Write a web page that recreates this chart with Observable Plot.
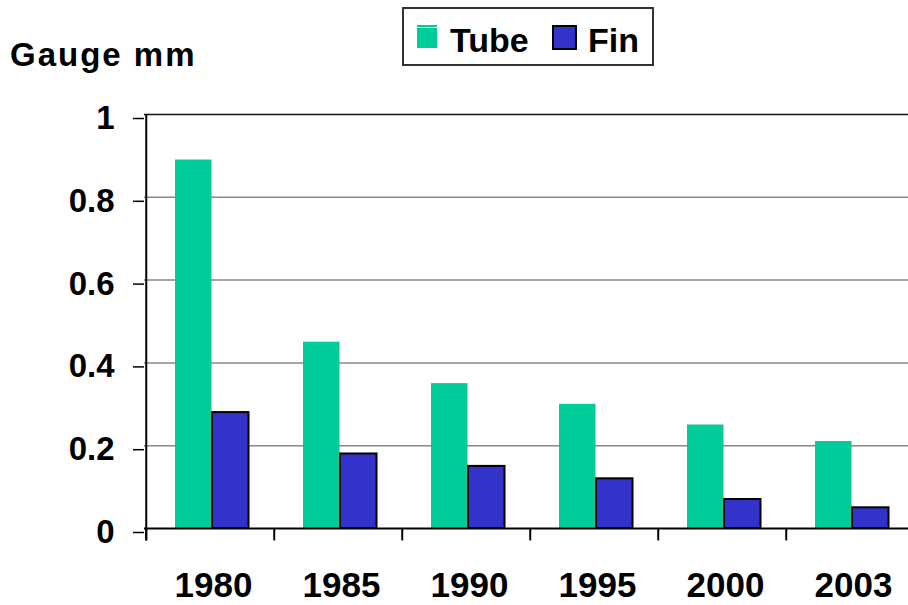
<!DOCTYPE html>
<html>
<head>
<meta charset="utf-8">
<script src="https://cdn.jsdelivr.net/npm/d3@7"></script>
<script src="https://cdn.jsdelivr.net/npm/@observablehq/plot@0.6"></script>
<style>
  html, body { margin: 0; padding: 0; background: #fff; overflow: hidden; }
  #chart { position: relative; width: 908px; height: 605px; }
</style>
</head>
<body>
<div id="chart"></div>
<script>
const years = ["1980", "1985", "1990", "1995", "2000", "2003"];
const tubeValues = [0.89, 0.45, 0.35, 0.3, 0.25, 0.21];
const finValues = [0.28, 0.18, 0.15, 0.12, 0.07, 0.05];
const yTicks = [0, 0.2, 0.4, 0.6, 0.8, 1];
const gridValues = [0.2, 0.4, 0.6, 0.8];
const seriesNames = ["Tube", "Fin"];
const seriesColors = ["#00CC99", "#3333CC"];
const yLabel = "Gauge mm";

const tubeData = years.map((y, i) => ({year: y, value: tubeValues[i]}));
const finData = years.map((y, i) => ({year: y, value: finValues[i]}));

const W = 908, H = 605;
const xRange = [144, 915];
const bw = (xRange[1] - xRange[0]) / years.length;
const font = "'Liberation Sans', Arial, sans-serif";

const plot = Plot.plot({
  width: W,
  height: H,
  marginTop: 114,
  marginBottom: 77,
  marginLeft: 144,
  marginRight: 0,
  style: {fontFamily: font, fontWeight: "bold", color: "#000", background: "#fff", overflow: "visible"},
  x: {type: "band", domain: years, range: xRange, padding: 0},
  y: {domain: [0, 1]},
  marks: [
    Plot.ruleY(gridValues, {stroke: "#888", strokeWidth: 1.5}),
    Plot.ruleY([1], {stroke: "#111", strokeWidth: 1.5}),
    Plot.barY(tubeData, {x: "year", y: "value", fill: seriesColors[0], insetLeft: 29, insetRight: bw - 66}),
    Plot.barY(finData, {x: "year", y: "value", fill: seriesColors[1], stroke: "#000", strokeWidth: 2, insetLeft: 66, insetRight: bw - 103}),
    Plot.ruleY([0], {stroke: "#000", strokeWidth: 2}),
    Plot.ruleX(years, {x: d => d, dx: -bw / 2, y1: 0, y2: -0.03, stroke: "#000", strokeWidth: 2}),
    Plot.ruleX([years[0]], {x: d => d, dx: -bw / 2, y1: -0.03, y2: 1, stroke: "#000", strokeWidth: 2}),
    Plot.axisY({ticks: yTicks, tickFormat: d => String(d), tickSize: 11, tickPadding: 19, fontSize: 33, dy: 4, stroke: "#000", strokeWidth: 1.5, label: null}),
    Plot.axisX({tickSize: 0, tickPadding: 44, fontSize: 35, dx: 3, label: null})
  ]
});

document.getElementById("chart").appendChild(plot);

const svg = d3.select(plot);
function addText(sel, x, y, size, str, spacing) {
  return sel.append("text")
    .attr("x", x).attr("y", y)
    .attr("text-anchor", "start")
    .attr("font-family", font).attr("font-weight", "bold")
    .attr("font-size", size)
    .attr("letter-spacing", spacing || 0)
    .attr("fill", "#000")
    .text(str);
}
addText(svg, 10, 66, 33, yLabel, 2);

const lg = svg.append("g");
lg.append("rect").attr("x", 403).attr("y", 8).attr("width", 250).attr("height", 57)
  .attr("fill", "#fff").attr("stroke", "#333").attr("stroke-width", 2);
lg.append("rect").attr("x", 417).attr("y", 25).attr("width", 20).attr("height", 23)
  .attr("fill", seriesColors[0]);
lg.append("line").attr("x1", 417).attr("x2", 437).attr("y1", 27.5).attr("y2", 27.5)
  .attr("stroke", "#fff").attr("stroke-width", 1);
addText(lg, 450, 52, 34, seriesNames[0]);
lg.append("rect").attr("x", 553).attr("y", 26).attr("width", 23).attr("height", 23)
  .attr("fill", seriesColors[1]).attr("stroke", "#000").attr("stroke-width", 2);
addText(lg, 588, 52, 34, seriesNames[1]);
</script>
</body>
</html>
